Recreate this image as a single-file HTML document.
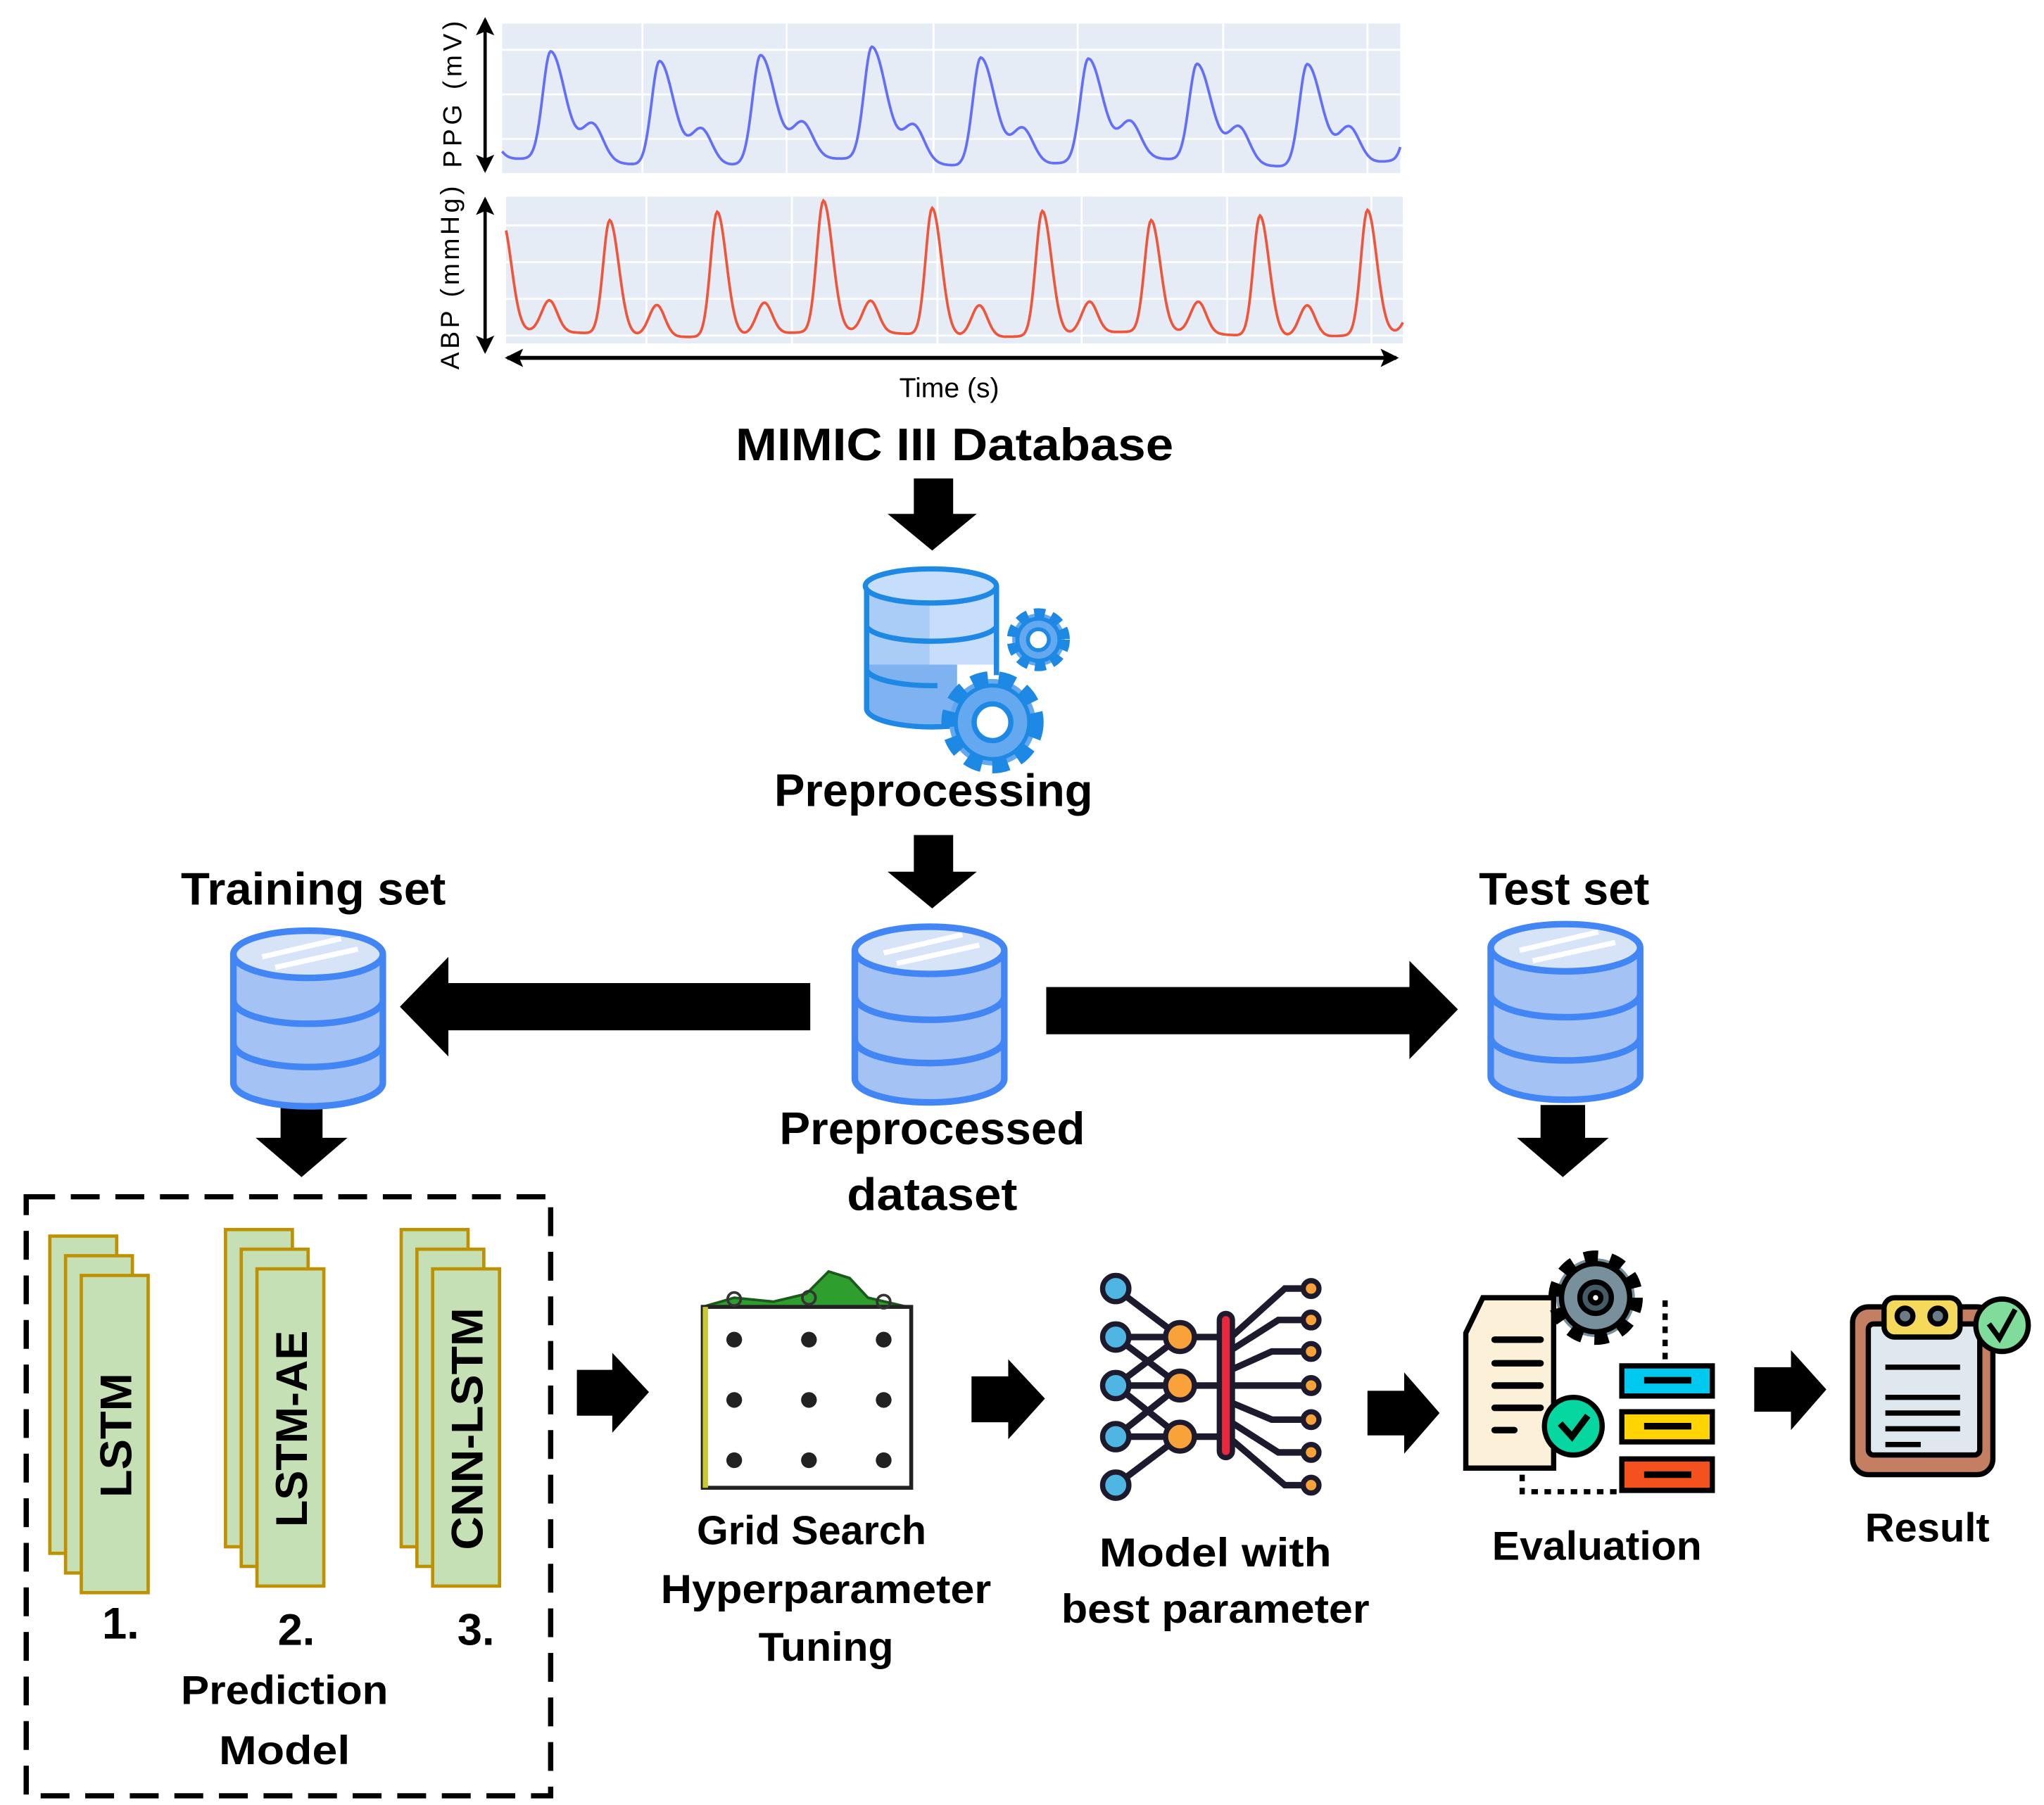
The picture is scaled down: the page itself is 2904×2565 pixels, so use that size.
<!DOCTYPE html>
<html><head><meta charset="utf-8"><style>
html,body{margin:0;padding:0;background:#fff;}
svg{display:block;}
.t{font-family:"Liberation Sans",sans-serif;font-weight:bold;fill:#000;text-anchor:middle;}
</style></head><body>
<svg width="2904" height="2565" viewBox="0 0 1559 1377" xmlns="http://www.w3.org/2000/svg">
<defs>
<marker id="ah" markerWidth="14" markerHeight="14" refX="12" refY="7" orient="auto-start-reverse" markerUnits="userSpaceOnUse"><path d="M0,0 L14,7 L0,14 L3,7 Z" fill="#000"/></marker>
<g id="db">
 <path d="M-57,0 V98 A57,18 0 0 0 57,98 V0" fill="#a4c2f4" stroke="#4285f4" stroke-width="5"/>
 <path d="M-57,35 A57,18 0 0 0 57,35 M-57,68 A57,18 0 0 0 57,68" fill="none" stroke="#4285f4" stroke-width="5"/>
 <ellipse cx="0" cy="0" rx="57" ry="18" fill="#d7e4f8" stroke="#4285f4" stroke-width="5"/>
 <path d="M-35,2 L25,-12 M-25,10 L38,-4" stroke="#fff" stroke-width="4"/>
</g>
<g id="card">
 <rect x="0" y="0" width="51" height="242" fill="#c5e0b4" stroke="#bf9000" stroke-width="2.5"/>
</g>
</defs>

<rect x="383" y="18" width="685" height="114" fill="#e5ecf6"/>
<g stroke="#fff" stroke-width="1.5">
<line x1="383" y1="38" x2="1068" y2="38"/><line x1="383" y1="72" x2="1068" y2="72"/><line x1="383" y1="106" x2="1068" y2="106"/>
<line x1="490" y1="18" x2="490" y2="132"/><line x1="600" y1="18" x2="600" y2="132"/><line x1="712" y1="18" x2="712" y2="132"/><line x1="822" y1="18" x2="822" y2="132"/><line x1="933" y1="18" x2="933" y2="132"/><line x1="1043" y1="18" x2="1043" y2="132"/>
</g>
<path id="ppg" fill="none" stroke="#636efa" stroke-width="2"/>
<rect x="386" y="150" width="684" height="112" fill="#e5ecf6"/>
<g stroke="#fff" stroke-width="1.5">
<line x1="386" y1="172" x2="1070" y2="172"/><line x1="386" y1="200" x2="1070" y2="200"/><line x1="386" y1="228" x2="1070" y2="228"/><line x1="386" y1="256" x2="1070" y2="256"/>
<line x1="493" y1="150" x2="493" y2="262"/><line x1="604" y1="150" x2="604" y2="262"/><line x1="715" y1="150" x2="715" y2="262"/><line x1="825" y1="150" x2="825" y2="262"/><line x1="936" y1="150" x2="936" y2="262"/><line x1="1046" y1="150" x2="1046" y2="262"/>
</g>
<path id="abp" fill="none" stroke="#ef553b" stroke-width="2"/>

<line x1="370" y1="15" x2="370" y2="130" stroke="#000" stroke-width="2.5" marker-end="url(#ah)" marker-start="url(#ah)"/>
<line x1="370" y1="152" x2="370" y2="268" stroke="#000" stroke-width="2.5" marker-end="url(#ah)" marker-start="url(#ah)"/>
<line x1="387" y1="273" x2="1065" y2="273" stroke="#000" stroke-width="3" marker-end="url(#ah)" marker-start="url(#ah)"/>
<text x="0" y="0" transform="translate(352,72) rotate(-90)" font-family="Liberation Sans, sans-serif" font-size="20" text-anchor="middle" textLength="112">PPG (mV)</text>
<text x="0" y="0" transform="translate(350,212) rotate(-90)" font-family="Liberation Sans, sans-serif" font-size="20" text-anchor="middle" textLength="140">ABP (mmHg)</text>
<text x="724" y="303" font-family="Liberation Sans, sans-serif" font-size="21" text-anchor="middle">Time (s)</text>

<text class="t" x="728" y="351" font-size="35" textLength="334" lengthAdjust="spacingAndGlyphs">MIMIC III Database</text>

<path d="M697,365 H727 V392 H745 L711,420 L677,392 H697 Z"/>
<path d="M697,637 H727 V665 H745 L711,693 L677,665 H697 Z"/>
<path d="M214,843 H246 V868 H265 L230,898 L195,868 H214 Z"/>
<path d="M1175,843 H1209 V868 H1227 L1192,898 L1157,868 H1175 Z"/>

<path d="M661,447 V540 A50,14 0 0 0 730,552 L730,447 Z" fill="#7fb2f0"/>
<path d="M661,447 V540 A50,14 0 0 0 725,554 M760,447 V510" fill="none" stroke="#1e88e5" stroke-width="4"/>
<rect x="661" y="447" width="99" height="60" fill="#a9cdf7"/>
<rect x="709" y="447" width="51" height="60" fill="#c6defb"/>
<path d="M661,447 V540" stroke="#1e88e5" stroke-width="4"/>
<path d="M760,447 V515" stroke="#1e88e5" stroke-width="4"/>
<path d="M661,478 A50,13 0 0 0 760,478 M661,510 A50,13 0 0 0 715,523" fill="none" stroke="#1e88e5" stroke-width="4"/>
<ellipse cx="710" cy="447" rx="50" ry="13" fill="#c6defb" stroke="#1e88e5" stroke-width="4"/>
<g transform="translate(792,488)"><circle r="20" fill="#64a8f0" stroke="#1e88e5" stroke-width="8" stroke-dasharray="8 5"/><circle r="16" fill="#64a8f0" stroke="#1e88e5" stroke-width="3"/><circle r="8" fill="#fff" stroke="#1e88e5" stroke-width="3"/></g>
<g transform="translate(757,551)"><circle r="33" fill="#64a8f0" stroke="#1e88e5" stroke-width="12" stroke-dasharray="12 8"/><circle r="28" fill="#64a8f0" stroke="#1e88e5" stroke-width="3"/><circle r="14" fill="#fff" stroke="#1e88e5" stroke-width="4"/></g>

<text class="t" x="712" y="615" font-size="35" textLength="243" lengthAdjust="spacingAndGlyphs">Preprocessing</text>
<text class="t" x="239" y="690" font-size="35" textLength="202" lengthAdjust="spacingAndGlyphs">Training set</text>
<text class="t" x="1193" y="690" font-size="35" textLength="130" lengthAdjust="spacingAndGlyphs">Test set</text>

<use href="#db" x="235" y="728"/>
<use href="#db" x="709" y="725"/>
<use href="#db" x="1194" y="723"/>

<path d="M618,750 V786 H342 V806 L305,768 L342,730 V750 Z"/>
<path d="M798,753 H1075 V733 L1112,770 L1075,808 V789 H798 Z"/>

<text class="t" x="711" y="873" font-size="35" textLength="233" lengthAdjust="spacingAndGlyphs">Preprocessed</text>
<text class="t" x="711" y="923" font-size="35" textLength="130" lengthAdjust="spacingAndGlyphs">dataset</text>

<rect x="20" y="913" width="400" height="457" fill="none" stroke="#000" stroke-width="4" stroke-dasharray="22 12"/>

<use href="#card" x="38" y="943"/><use href="#card" x="50" y="958"/><use href="#card" x="62" y="973"/>
<use href="#card" x="172" y="938"/><use href="#card" x="184" y="953"/><use href="#card" x="196" y="968"/>
<use href="#card" x="306" y="938"/><use href="#card" x="318" y="953"/><use href="#card" x="330" y="968"/>
<text class="t" transform="translate(100,1095) rotate(-90)" font-size="34" textLength="95" lengthAdjust="spacingAndGlyphs">LSTM</text>
<text class="t" transform="translate(234,1090) rotate(-90)" font-size="34" textLength="150" lengthAdjust="spacingAndGlyphs">LSTM-AE</text>
<text class="t" transform="translate(368,1090) rotate(-90)" font-size="34" textLength="185" lengthAdjust="spacingAndGlyphs">CNN-LSTM</text>

<text class="t" x="92" y="1250" font-size="34">1.</text>
<text class="t" x="226" y="1255" font-size="34">2.</text>
<text class="t" x="363" y="1255" font-size="34">3.</text>
<text class="t" x="217" y="1300" font-size="31" textLength="158" lengthAdjust="spacingAndGlyphs">Prediction</text>
<text class="t" x="217" y="1346" font-size="31" textLength="100" lengthAdjust="spacingAndGlyphs">Model</text>

<path d="M440,1045 H467 V1032 L495,1062 L467,1093 V1080 H440 Z"/>
<path d="M741,1050 H769 V1037 L797,1067 L769,1098 V1085 H741 Z"/>
<path d="M1043,1061 H1071 V1047 L1098,1078 L1071,1109 V1095 H1043 Z"/>
<path d="M1338,1043 H1366 V1030 L1393,1060 L1366,1091 V1077 H1338 Z"/>

<path d="M536,997 L560,990 L590,993 L615,987 L632,970 L648,975 L662,990 L692,997 Z" fill="#2e9e2e" stroke="#1a5a1a" stroke-width="2"/>
<rect x="536" y="997" width="159" height="138" fill="#fff" stroke="#222" stroke-width="3"/>
<rect x="536" y="997" width="4" height="138" fill="#c8c830"/>
<g fill="none" stroke="#333" stroke-width="2"><circle cx="560" cy="991" r="5"/><circle cx="617" cy="990" r="5"/><circle cx="674" cy="993" r="5"/></g>
<g fill="#222">
<circle cx="560" cy="1022" r="6"/><circle cx="617" cy="1022" r="6"/><circle cx="674" cy="1022" r="6"/>
<circle cx="560" cy="1068" r="6"/><circle cx="617" cy="1068" r="6"/><circle cx="674" cy="1068" r="6"/>
<circle cx="560" cy="1114" r="6"/><circle cx="617" cy="1114" r="6"/><circle cx="674" cy="1114" r="6"/>
</g>
<text class="t" x="619" y="1178" font-size="31" textLength="175" lengthAdjust="spacingAndGlyphs">Grid Search</text>
<text class="t" x="630" y="1223" font-size="31" textLength="252" lengthAdjust="spacingAndGlyphs">Hyperparameter</text>
<text class="t" x="630" y="1267" font-size="31" textLength="103" lengthAdjust="spacingAndGlyphs">Tuning</text>

<g stroke="#1d1a2e" stroke-width="5" fill="none" stroke-linecap="round">
<path d="M851,983 L900,1020 M851,1020 H935 M851,1057 H935 M851,1096 H935 M851,1133 L900,1096 M851,1020 L900,1057 L851,1096 M851,1057 L900,1020 M851,1057 L900,1096"/>
<path d="M939,1020 L980,983 H1000 M939,1030 L975,1007 H1000 M939,1045 L970,1031 H1000 M939,1057 H1000 M939,1070 L970,1083 H1000 M939,1085 L975,1108 H1000 M939,1098 L980,1133 H1000"/>
</g>
<g stroke="#1d1a2e" stroke-width="4">
<circle cx="851" cy="983" r="10" fill="#4fb6e3"/><circle cx="851" cy="1020" r="10" fill="#4fb6e3"/><circle cx="851" cy="1057" r="10" fill="#4fb6e3"/><circle cx="851" cy="1096" r="10" fill="#4fb6e3"/><circle cx="851" cy="1133" r="10" fill="#4fb6e3"/>
<circle cx="900" cy="1020" r="11" fill="#f9a23a"/><circle cx="900" cy="1057" r="11" fill="#f9a23a"/><circle cx="900" cy="1096" r="11" fill="#f9a23a"/>
<rect x="930" y="1002" width="10" height="110" rx="5" fill="#e8283c"/>
<circle cx="1000" cy="983" r="6" fill="#f9a23a"/><circle cx="1000" cy="1007" r="6" fill="#f9a23a"/><circle cx="1000" cy="1031" r="6" fill="#f9a23a"/><circle cx="1000" cy="1057" r="6" fill="#f9a23a"/><circle cx="1000" cy="1083" r="6" fill="#f9a23a"/><circle cx="1000" cy="1108" r="6" fill="#f9a23a"/><circle cx="1000" cy="1133" r="6" fill="#f9a23a"/>
</g>
<text class="t" x="927" y="1195" font-size="31" textLength="177" lengthAdjust="spacingAndGlyphs">Model with</text>
<text class="t" x="927" y="1238" font-size="31" textLength="235" lengthAdjust="spacingAndGlyphs">best parameter</text>

<g stroke="#000" stroke-width="4">
<path d="M1131,990 H1185 V1120 H1118 V1017 Z" fill="#fdf0d8"/>
<path d="M1161,1125 V1138 H1237 M1270,992 V1042" fill="none" stroke-dasharray="5 5"/>
<g stroke-width="5" stroke-linecap="round"><line x1="1140" y1="1022" x2="1175" y2="1022"/><line x1="1140" y1="1040" x2="1175" y2="1040"/><line x1="1140" y1="1057" x2="1175" y2="1057"/><line x1="1140" y1="1074" x2="1175" y2="1074"/><line x1="1140" y1="1091" x2="1155" y2="1091"/></g>
<circle cx="1217" cy="990" r="30" fill="#78909c" stroke-width="12" stroke-dasharray="10 9"/>
<circle cx="1217" cy="990" r="26" fill="#78909c"/>
<circle cx="1217" cy="990" r="12" fill="#455a64"/><circle cx="1217" cy="990" r="4" fill="#fff"/>
<rect x="1237" y="1042" width="69" height="23" fill="#00c9f0"/>
<rect x="1237" y="1077" width="69" height="23" fill="#ffd400"/>
<rect x="1237" y="1113" width="69" height="24" fill="#f4511e"/>
<line x1="1254" y1="1053" x2="1290" y2="1053" stroke-width="5"/><line x1="1254" y1="1088" x2="1290" y2="1088" stroke-width="5"/><line x1="1254" y1="1125" x2="1290" y2="1125" stroke-width="5"/>
<circle cx="1200" cy="1088" r="22" fill="#06d6a0"/>
<path d="M1190,1086 L1199,1096 L1211,1080" fill="none" stroke-width="5"/>
</g>
<text class="t" x="1218" y="1190" font-size="31" textLength="160" lengthAdjust="spacingAndGlyphs">Evaluation</text>

<g stroke="#000" stroke-width="4">
<rect x="1413" y="997" width="107" height="128" rx="12" fill="#c47f62"/>
<rect x="1425" y="1010" width="85" height="100" rx="4" fill="#dfe8ee"/>
<rect x="1437" y="990" width="58" height="30" rx="8" fill="#f5d95a"/>
<circle cx="1453" cy="1004" r="6" fill="#6b7b86"/><circle cx="1478" cy="1004" r="6" fill="#6b7b86"/>
<g stroke-width="4"><line x1="1438" y1="1043" x2="1495" y2="1043"/><line x1="1438" y1="1066" x2="1495" y2="1066"/><line x1="1438" y1="1078" x2="1495" y2="1078"/><line x1="1438" y1="1090" x2="1495" y2="1090"/><line x1="1438" y1="1102" x2="1465" y2="1102"/></g>
<circle cx="1527" cy="1011" r="20" fill="#7fdc9b"/>
<path d="M1517,1010 L1525,1021 L1537,999" fill="none" stroke-width="4"/>
</g>
<text class="t" x="1470" y="1176" font-size="31" textLength="95" lengthAdjust="spacingAndGlyphs">Result</text>
</svg>
<script>
function g(x,s){return Math.exp(-x*x/(2*s*s));}
function build(id,x0,x1,peaks,base,A,sr,sf,B,bo,bs,drift){
 var d="";
 for(var x=x0;x<=x1;x+=1){
  var y=base;
  for(var i=0;i<peaks.length;i++){
   var dx=x-peaks[i].p;
   y-=peaks[i].a*g(dx,dx<0?sr:sf);
   y-=B*g(dx-bo,bs);
  }
  y+=drift*Math.sin(x/37);
  d+=(x==x0?"M":"L")+x+","+y.toFixed(1);
 }
 document.getElementById(id).setAttribute("d",d);
}
build("ppg",383,1068,[{p:337,a:80},{p:420,a:82},{p:503,a:80},{p:580,a:82},{p:665,a:86},{p:748,a:83},{p:830,a:78},{p:913,a:74},{p:997,a:78},{p:1080,a:75}],124,0,6,11,28,32,8,3);
build("abp",386,1070,[{p:383,a:85},{p:465,a:87},{p:547,a:95},{p:628,a:100},{p:711,a:97},{p:795,a:95},{p:878,a:85},{p:961,a:92},{p:1043,a:95}],255,0,5,7,24,36,6,2);
</script>
</body></html>
